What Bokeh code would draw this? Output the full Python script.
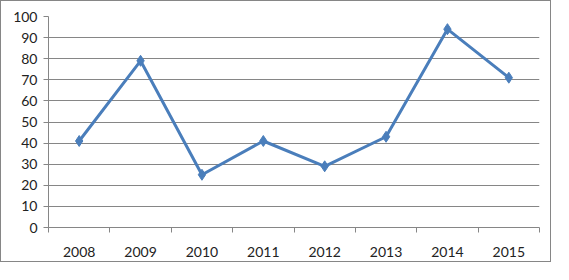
from bokeh.plotting import figure
from bokeh.models import FixedTicker, Range1d
from bokeh.embed import file_html
from bokeh.resources import INLINE

years = ["2008", "2009", "2010", "2011", "2012", "2013", "2014", "2015"]
values = [41, 79, 25, 41, 29, 43, 94, 71]
y_ticks = [0, 10, 20, 30, 40, 50, 60, 70, 80, 90, 100]

n = len(years)
xs = [i + 0.5 for i in range(n)]

GRAY = "#868686"
BLUE = "#4a7ebb"
FONT = "Lato"

p = figure(width=551, height=262, output_backend="svg", toolbar_location=None,
           x_range=Range1d(0, n), y_range=Range1d(0, 100),
           min_border_left=47, min_border_right=13, min_border_top=15, min_border_bottom=36,
           styles={"border": "1px solid " + GRAY})
p.outline_line_color = None
p.background_fill_color = "white"
p.border_fill_color = "white"

p.line(xs, values, line_color=BLUE, line_width=3)
p.scatter(xs, values, marker="diamond", size=11, fill_color=BLUE, line_color=BLUE)

p.xaxis.ticker = FixedTicker(ticks=xs, minor_ticks=list(range(n + 1)))
p.xaxis.major_label_overrides = {x: y for x, y in zip(xs, years)}
p.xaxis.major_tick_line_color = None
p.xaxis.minor_tick_line_color = GRAY
p.xaxis.minor_tick_in = 0
p.xaxis.minor_tick_out = 5
p.xaxis.axis_line_color = GRAY
p.xaxis.major_label_standoff = 13

p.yaxis.ticker = FixedTicker(ticks=y_ticks)
p.yaxis.minor_tick_line_color = None
p.yaxis.major_tick_line_color = GRAY
p.yaxis.major_tick_in = 0
p.yaxis.major_tick_out = 5
p.yaxis.axis_line_color = GRAY
p.yaxis.major_label_standoff = 6

for ax in (p.xaxis, p.yaxis):
    ax.major_label_text_font = FONT
    ax.major_label_text_font_size = "14px"
    ax.major_label_text_color = "#222222"

p.xgrid.grid_line_color = None
p.ygrid.grid_line_color = GRAY
p.ygrid.grid_line_width = 1

open("out.html", "w").write(file_html(p, INLINE))
